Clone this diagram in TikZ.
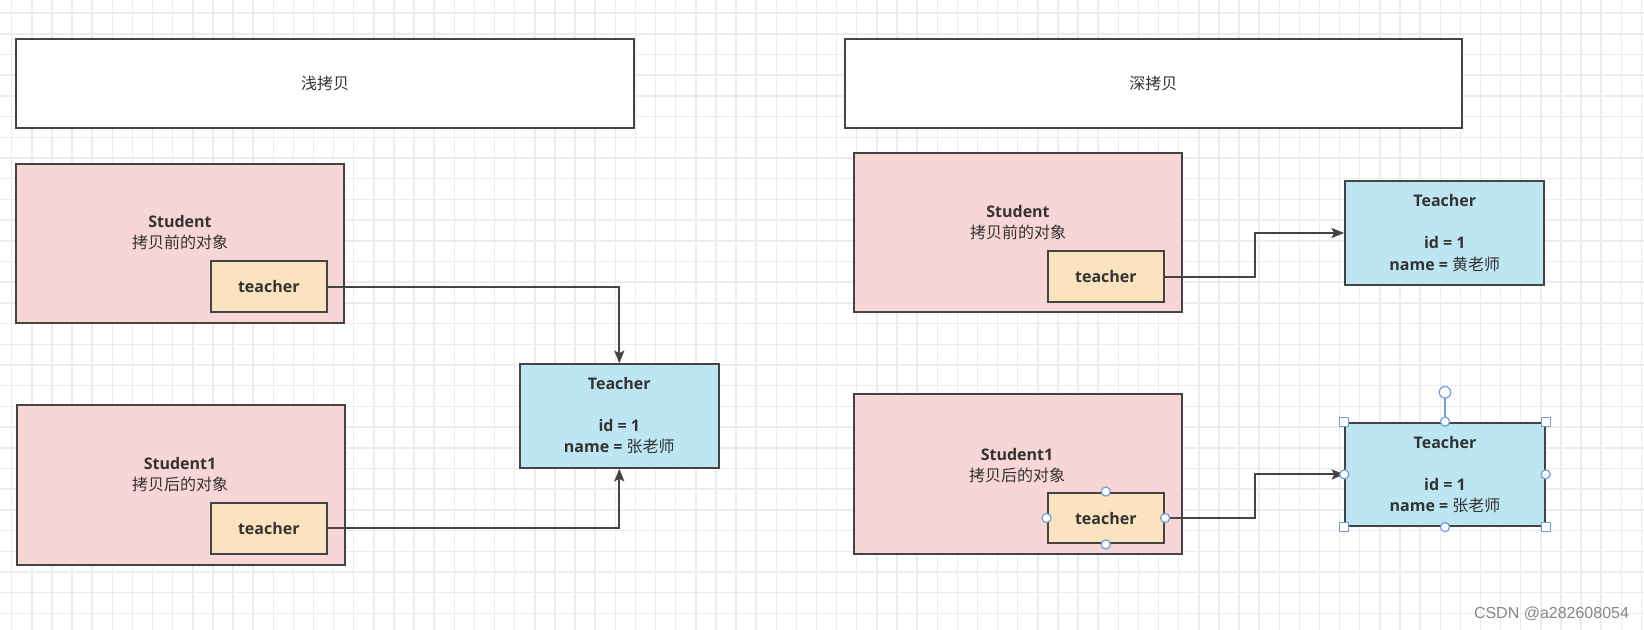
\documentclass[tikz,border=0pt]{standalone}
\usepackage{fontspec}
\setmainfont{Open Sans}
\newfontfamily\cjk{Noto Sans CJK SC}
\newfontfamily\wmfont{Liberation Sans}
\usetikzlibrary{arrows.meta,calc}

\definecolor{pinkfill}{RGB}{248,214,213}
\definecolor{beigefill}{RGB}{250,227,190}
\definecolor{bluefill}{RGB}{189,229,242}
\definecolor{boxline}{RGB}{68,68,68}
\definecolor{gridgray}{RGB}{236,236,236}
\definecolor{handleblue}{RGB}{115,158,216}
\definecolor{txt}{RGB}{51,51,51}

\tikzset{
  % box styles, sizes in pt (1px = 0.75pt)
  basebox/.style={draw=boxline, line width=1.5pt, inner sep=0pt, text=txt,
    font=\fontsize{12}{15.8}\selectfont, align=center},
  titlebox/.style={basebox, fill=white, minimum width=463pt, minimum height=66.75pt},
  objbox/.style={basebox, fill=pinkfill, minimum width=246pt, minimum height=119.4pt},
  fieldbox/.style={basebox, fill=beigefill, minimum width=87.4pt, minimum height=38.2pt},
  classbox/.style={basebox, fill=bluefill, minimum width=149.5pt, minimum height=77.6pt},
  lbl/.style={inner sep=0pt, text=txt, font=\fontsize{12}{15.8}\selectfont, align=center},
  conn/.style={draw=boxline, line width=1.5pt, -{Stealth[length=9.5pt,width=7.5pt,inset=2pt]}},
  gridline/.style={draw=gridgray, line width=1.1pt},
  handle/.style={draw=handleblue, fill=white, line width=0.9pt},
  wm/.style={inner sep=0pt, text={rgb,255:red,135;green,135;blue,135}, font=\wmfont\fontsize{12}{14}\selectfont}
}

\begin{document}
\begin{tikzpicture}[x=0.75pt,y=0.75pt,yscale=-1]
\fill[white] (0,0) rectangle (1644,630);
\useasboundingbox (0,0) rectangle (1644,630);

%grid
\foreach \gx in {11.7,31.82,...,1644} \draw[gridline] (\gx,0) -- (\gx,630);
\foreach \gy in {13.1,33.8,...,630} \draw[gridline] (0,\gy) -- (1644,\gy);

%titles
\node[titlebox] (shallow) at (325,83.5) {\cjk 浅拷贝};
\node[titlebox] (deep) at (1153.3,83.5) {\cjk 深拷贝};

%shallow copy side
\node[objbox] (stu) at (180.2,243.3) {};
\node[lbl] (stulbl) at (180,233) {\bfseries Student\\{\cjk 拷贝前的对象}};
\node[fieldbox] (tch) at (268.8,286.9) {\bfseries teacher};

\node[objbox] (stuone) at (180.5,485) {};
\node[lbl] (stuonelbl) at (180,475) {\bfseries Student1\\{\cjk 拷贝后的对象}};
\node[fieldbox] (tchone) at (268.8,528.3) {\bfseries teacher};

\node[classbox] (teach) at (619.3,416) {\bfseries Teacher\\[15.8pt]\bfseries id = 1\\{\bfseries name = }{\cjk 张老师}};

\draw[conn] (tch.east) -| (teach.north);
\draw[conn] (tchone.east) -| (teach.south);

%deep copy side
\node[objbox] (dstu) at (1017.9,232.8) {};
\node[lbl] (dstulbl) at (1018,222.5) {\bfseries Student\\{\cjk 拷贝前的对象}};
\node[fieldbox] (dtch) at (1105.9,276.9) {\bfseries teacher};
\node[classbox] (dteach) at (1444.8,233) {\bfseries Teacher\\[15.8pt]\bfseries id = 1\\{\bfseries name = }{\cjk 黄老师}};

\node[objbox] (dstuone) at (1017.9,474.1) {};
\node[lbl] (dstuonelbl) at (1017,465.8) {\bfseries Student1\\{\cjk 拷贝后的对象}};
\node[fieldbox] (dtchone) at (1105.8,518) {\bfseries teacher};
\node[classbox] (dteachone) at (1445,474.4) {\bfseries Teacher\\[15.8pt]\bfseries id = 1\\{\bfseries name = }{\cjk 张老师}};

\draw[conn] (dtch.east) -| ($(dtch.east)!.5!(dteach.west)$) |- (dteach.west);
\draw[conn] (dtchone.east) -| ($(dtchone.east)!.5!(dteachone.west)$) |- (dteachone.west);

%selection handles
\coordinate (rot) at ($(dteachone.north)+(0,-29.4)$);
\draw[draw=handleblue, line width=0.9pt] (dteachone.north) -- (rot);
\draw[handle] (rot) circle[radius=4.3pt];
\foreach \a in {north,south,east,west} \draw[handle] (dtchone.\a) circle[radius=3.4pt];
\foreach \a in {north,south,east,west} \draw[handle] (dteachone.\a) circle[radius=3.4pt];
\foreach \a in {north east,north west,south east,south west}
  \draw[handle] ($(dteachone.\a)+(-4.5,-4.5)$) rectangle ++(9,9);

% Text Node
\node[wm] (csdn) at (1551.5,613.5) {CSDN @a282608054};

\end{tikzpicture}
\end{document}
